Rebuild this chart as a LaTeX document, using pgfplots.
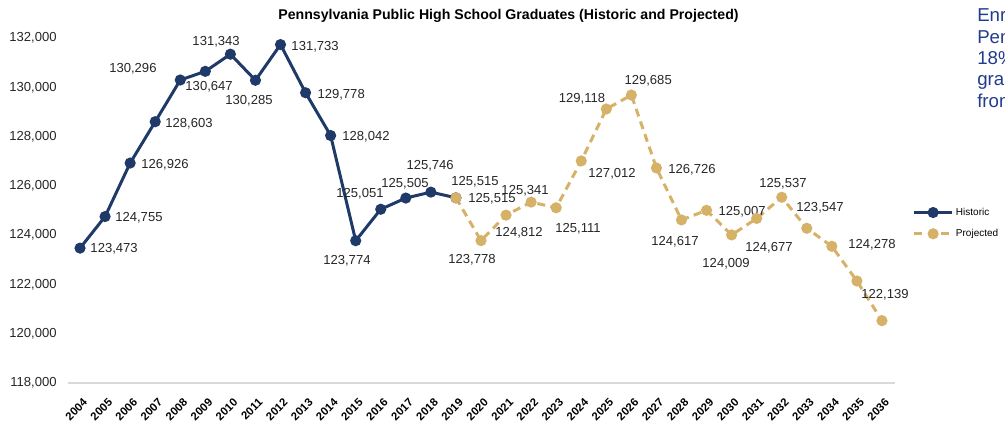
\documentclass[border=0pt]{standalone}
\usepackage{pgfplots}
\pgfplotsset{compat=1.18}
\usepackage{fontspec}
\setmainfont{Liberation Sans}
\definecolor{histblue}{RGB}{31,58,104}
\definecolor{projgold}{RGB}{214,178,104}
\definecolor{txtblue}{RGB}{33,60,140}
\definecolor{axgray}{RGB}{217,217,217}
\newcommand{\lbl}{\fontsize{9.8}{11}\selectfont}
\begin{document}
\begin{tikzpicture}
\useasboundingbox (0,0) rectangle (753.75pt,318.75pt);
\begin{axis}[
  at={(50.625pt,31.5pt)}, anchor=south west,
  scale only axis, width=620.25pt, height=258.75pt,
  xmin=2003.5, xmax=2036.5, ymin=118000, ymax=132000,
  xtick={2004,2005,...,2036}, ytick={118000,120000,...,132000},
  scaled y ticks=false,
  axis x line*=bottom, axis y line*=left,
  y axis line style={draw=none},
  x axis line style={draw=axgray, line width=1.5pt, -},
  major tick length=0pt,
  clip=false,
  /pgf/number format/assume math mode=true,
  x tick label style={/pgf/number format/1000 sep={}},
  y tick label style={/pgf/number format/fixed, /pgf/number format/1000 sep={,}},
  xticklabel style={xshift=4pt, yshift=-13pt, rotate=45, anchor=east, inner sep=0pt, font=\bfseries\fontsize{8.5}{9}\selectfont},
  yticklabel style={anchor=east, inner sep=0pt, xshift=-8pt, font=\lbl, text=black!85},
  legend style={at={(1.022,0.516)}, anchor=north west, draw=none, fill=none,
    font=\fontsize{7.5}{9}\selectfont, inner sep=0pt, row sep=5pt},
  legend cell align=left,
  legend image code/.code={\draw[mark repeat=2,mark phase=2,#1] plot coordinates {(0pt,0pt)(14pt,0pt)(28pt,0pt)};},
]
\addplot[color=histblue, line width=2.25pt, mark=*, mark size=3pt] coordinates {
(2004,123473)(2005,124755)(2006,126926)(2007,128603)(2008,130296)(2009,130647)
(2010,131343)(2011,130285)(2012,131733)(2013,129778)(2014,128042)(2015,123774)
(2016,125051)(2017,125505)(2018,125746)(2019,125515)};
\addlegendentry{Historic}
\addplot[color=projgold, line width=2.25pt, dash pattern=on 6pt off 4pt, mark=*, mark size=3pt, mark options={solid}] coordinates {
(2019,125515)(2020,123778)(2021,124812)(2022,125341)(2023,125111)(2024,127012)
(2025,129118)(2026,129685)(2027,126726)(2028,124617)(2029,125007)(2030,124009)
(2031,124677)(2032,125537)(2033,124278)(2034,123547)(2035,122139)(2036,120530)};
\addlegendentry{Projected}
\begin{scope}[every node/.style={font=\lbl, inner sep=0pt, text=black!85}]
\node at (axis cs:2005.36,123438) {123,473};
\node at (axis cs:2006.35,124696) {124,755};
\node at (axis cs:2007.39,126846) {126,926};
\node at (axis cs:2008.35,128510) {128,603};
\node at (axis cs:2006.11,130742) {130,296};
\node at (axis cs:2009.15,130012) {130,647};
\node at (axis cs:2009.43,131838) {131,343};
\node at (axis cs:2010.74,129443) {130,285};
\node at (axis cs:2013.38,131635) {131,733};
\node at (axis cs:2014.42,129687) {129,778};
\node at (axis cs:2015.41,127983) {128,042};
\node at (axis cs:2015.17,125670) {125,051};
\node at (axis cs:2014.65,122951) {123,774};
\node at (axis cs:2016.97,126075) {125,505};
\node at (axis cs:2017.97,126806) {125,746};
\node at (axis cs:2019.76,126156) {125,515};
\node at (axis cs:2020.44,125467) {125,515};
\node at (axis cs:2019.64,122991) {123,778};
\node at (axis cs:2021.76,125791) {125,341};
\node at (axis cs:2021.52,124087) {124,812};
\node at (axis cs:2023.87,124249) {125,111};
\node at (axis cs:2025.23,126481) {127,012};
\node at (axis cs:2024.03,129525) {129,118};
\node at (axis cs:2026.67,130255) {129,685};
\node at (axis cs:2028.42,126643) {126,726};
\node at (axis cs:2027.74,123722) {124,617};
\node at (axis cs:2030.42,124939) {125,007};
\node at (axis cs:2029.78,122829) {124,009};
\node at (axis cs:2032.05,126075) {125,537};
\node at (axis cs:2031.49,123478) {124,677};
\node at (axis cs:2033.53,125101) {123,547};
\node at (axis cs:2035.60,123600) {124,278};
\node at (axis cs:2036.12,121571) {122,139};
\end{scope}
\end{axis}
\node[font=\bfseries\fontsize{10.6}{12}\selectfont] at (381.4pt,306.75pt) {Pennsylvania Public High School Graduates (Historic and Projected)};
\begin{scope}
\clip (0,0) rectangle (753.75pt,318.75pt);
\node[anchor=north west, align=left, inner sep=0pt, text=txtblue, font=\fontsize{14}{16}\selectfont] at (732.75pt,312.75pt) {Enrollment in\\Pennsylvania\\18\% of\\graduates\\from};
\end{scope}
\end{tikzpicture}
\end{document}
